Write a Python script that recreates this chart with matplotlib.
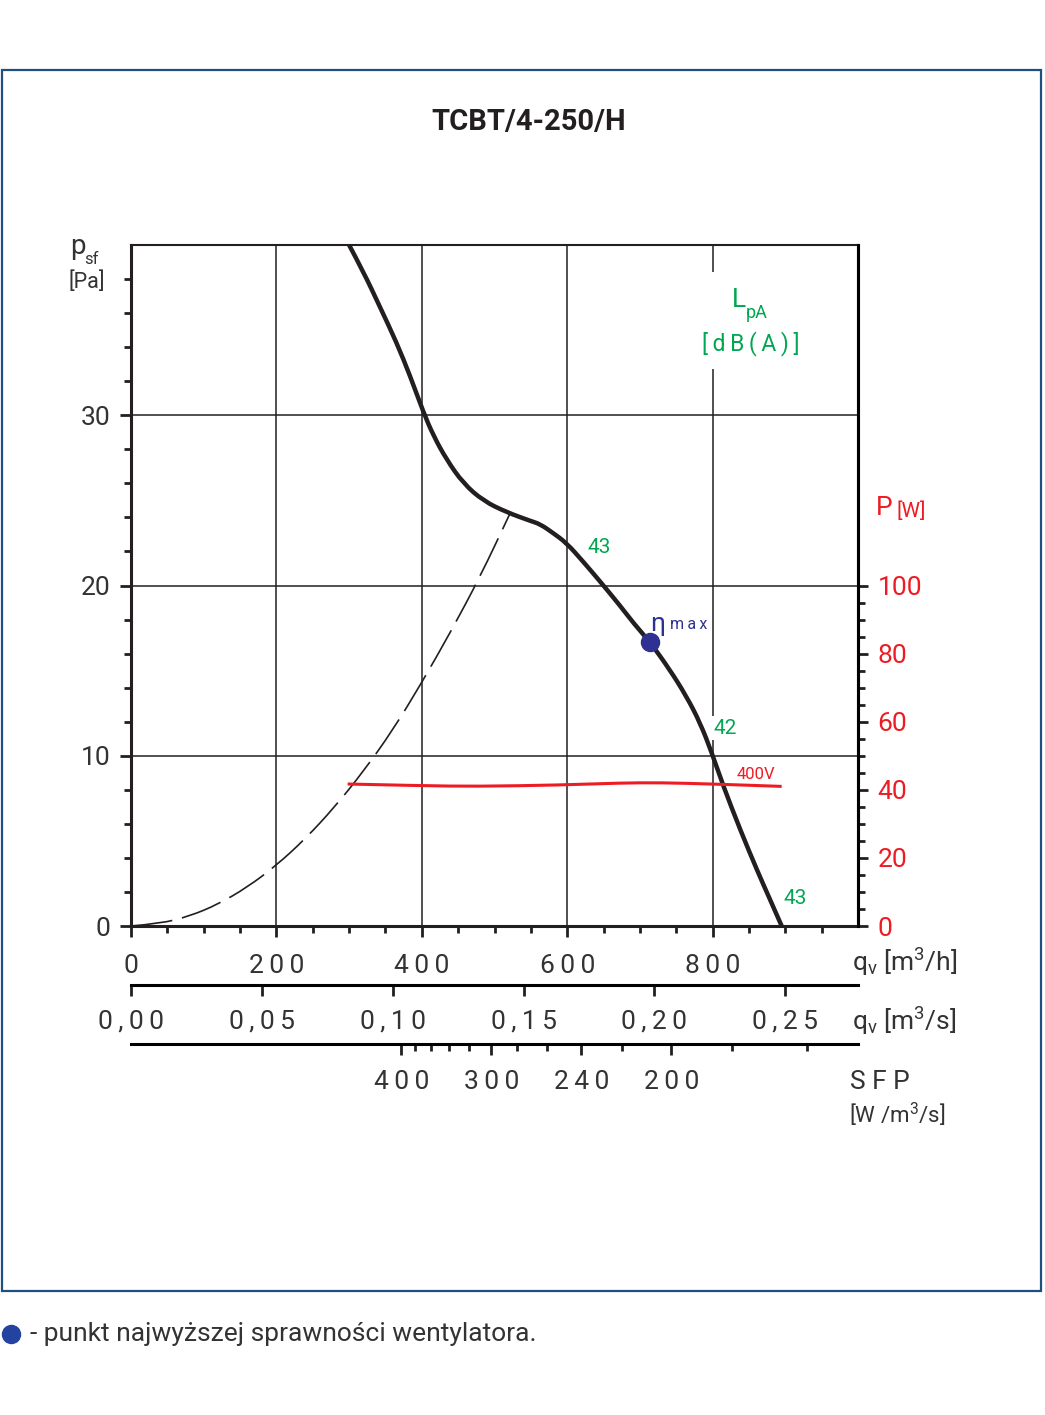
import numpy as np
import matplotlib
matplotlib.use('Agg')
from matplotlib import pyplot
from matplotlib.lines import Line2D
from matplotlib.patches import Rectangle, PathPatch
from matplotlib.path import Path
from matplotlib.ticker import FixedLocator

pyplot.rcParams['font.family'] = ['Roboto', 'DejaVu Sans']
pyplot.rcParams['mathtext.default'] = 'regular'

# fan curve (q [m3/h], p_sf [Pa])
q_fan = [300, 320, 342, 365, 384, 402, 416, 434, 457, 485, 517, 549, 563, 580, 599, 622,
         645, 673, 691, 714, 741, 764, 783, 799, 815, 838, 861, 878, 895]
p_fan = [40.0, 38.4, 36.4, 34.3, 32.3, 30.2, 28.8, 27.4, 26.0, 24.96, 24.3, 23.8, 23.6,
         23.1, 22.5, 21.4, 20.25, 18.8, 17.8, 16.67, 15.06, 13.49, 11.92, 10.16, 8.19,
         5.65, 3.29, 1.65, 0.0]

# system curve (dashed)
q_sys = [0, 40, 80, 120, 160, 200, 240, 280, 320, 360, 400, 440, 480, 521]
p_sys = [0.0, 0.14, 0.57, 1.28, 2.28, 3.56, 5.13, 6.98, 9.1, 11.5, 14.3, 17.3, 20.5, 24.2]

# power input 400V
q_pow = [298, 400, 476, 590, 673, 728, 800, 895]
P_pow = [41.7, 41.2, 41.0, 41.4, 42.0, 42.1, 41.7, 41.0]

# max efficiency point
q_eta, p_eta = 714, 16.67

# sound levels LpA along the curve
lpa_labels = ['43', '42', '43']

qh_ticks = [0, 200, 400, 600, 800]
qs_ticks = [0.0, 0.05, 0.10, 0.15, 0.20, 0.25]
qs_labels = ['0,00', '0,05', '0,10', '0,15', '0,20', '0,25']
sfp_major = [400, 300, 240, 200]
sfp_minor = [380, 360, 340, 320, 280, 260, 220, 180, 160]
P_sfp = 41.3  # W, power used for the SFP scale

W, H = 1045, 1415
black = '#231f20'
grey = '#333333'
green = '#00a651'
red = '#ed1c24'
navy = '#2e3192'


def fx(px):
    return px / W


def fy(py):
    return 1 - py / H


def spaced(s):
    return '\u2009'.join(s)


def smooth_path(x, y):
    # quadratic bezier through the midpoints, the read points act as controls
    verts = [(x[0], y[0])]
    codes = [Path.MOVETO]
    for i in range(1, len(x) - 1):
        verts += [(x[i], y[i]), ((x[i] + x[i + 1]) / 2, (y[i] + y[i + 1]) / 2)]
        codes += [Path.CURVE3, Path.CURVE3]
    verts.append((x[-1], y[-1]))
    codes.append(Path.LINETO)
    return Path(verts, codes)


fig = pyplot.figure(figsize=(W / 100, H / 100), dpi=100)
fig.add_artist(Rectangle((fx(2), fy(1291)), fx(1041) - fx(2), fy(70) - fy(1291),
                         transform=fig.transFigure, fill=False, ec='#1d4f80', lw=1.6))
fig.text(fx(529), fy(122), 'TCBT/4-250/H', ha='center', va='center', fontsize=21,
         fontweight='bold', color=black)

ax = fig.add_axes([fx(131), fy(926), fx(858) - fx(131), fy(245) - fy(926)])
ax.set_xlim(0, 1000)
ax.set_ylim(0, 40)
ax.xaxis.set_major_locator(FixedLocator(qh_ticks))
ax.set_xticklabels([spaced(str(v)) for v in qh_ticks])
ax.xaxis.set_minor_locator(FixedLocator(np.arange(50, 1000, 50)))
ax.yaxis.set_major_locator(FixedLocator([0, 10, 20, 30]))
ax.yaxis.set_minor_locator(FixedLocator(np.arange(2, 40, 2)))
ax.tick_params(which='major', direction='out', length=8, width=2, color=black,
               labelsize=19, labelcolor=grey)
ax.tick_params(which='minor', direction='out', length=5, width=2, color=black)
ax.tick_params(axis='x', pad=12)
ax.tick_params(axis='y', pad=7)
ax.grid(True, which='major', color=black, lw=1.1)
for side, lw in (('left', 2.2), ('bottom', 2.2), ('top', 1.5), ('right', 2.2)):
    ax.spines[side].set_linewidth(lw)
    ax.spines[side].set_color(black)

ax.add_patch(PathPatch(smooth_path(q_sys, p_sys), fill=False, ec=black, lw=1.2,
                       linestyle=(0, (25, 6)), zorder=4))
ax.add_patch(PathPatch(smooth_path(q_fan, p_fan), fill=False, ec=black, lw=3.2,
                       joinstyle='round', capstyle='butt', zorder=5))
ax.plot([q_eta], [p_eta], 'o', color=navy, ms=13, zorder=6)

# break in the 800 grid line behind the LpA caption
ax.add_patch(Rectangle((790, 32.7), 20, 5.7, fc='white', ec='none', zorder=3))

ax2 = ax.twinx()
ax2.set_ylim(0, 200)
ax2.yaxis.set_major_locator(FixedLocator(np.arange(0, 101, 20)))
ax2.yaxis.set_minor_locator(FixedLocator(np.arange(5, 100, 5)))
ax2.tick_params(which='major', direction='out', length=7, width=2, color=black,
                labelsize=19, labelcolor=red, pad=7)
ax2.tick_params(which='minor', direction='out', length=5, width=2, color=black)
for side in ('left', 'top', 'bottom'):
    ax2.spines[side].set_visible(False)
ax2.spines['right'].set_linewidth(2.2)
ax2.add_patch(PathPatch(smooth_path(q_pow, P_pow), fill=False, ec=red, lw=2.2, zorder=4))

# annotations inside the plot
fig.text(fx(588), fy(548), lpa_labels[0], color=green, fontsize=15, va='center', ha='left')
fig.text(fx(714), fy(728), lpa_labels[1], color=green, fontsize=15, va='center', ha='left',
         bbox=dict(fc='white', ec='none', pad=1.5), zorder=6)
fig.text(fx(784), fy(899), lpa_labels[2], color=green, fontsize=15, va='center', ha='left')
fig.text(fx(737), fy(774), '400V', color=red, fontsize=12, va='center', ha='left')
fig.text(fx(650), fy(624), 'η', color=navy, fontsize=19, va='center', ha='left')
fig.text(fx(670), fy(624), spaced('max'), color=navy, fontsize=11.5, va='center', ha='left')
fig.text(fx(732), fy(300), 'L', color=green, fontsize=19, va='center', ha='left')
fig.text(fx(746), fy(313), 'pA', color=green, fontsize=13, va='center', ha='left')
fig.text(fx(751), fy(344), spaced('[dB(A)]'), color=green, fontsize=16.5, va='center',
         ha='center')

# flow in m3/s
ax_s = fig.add_axes([fx(131), fy(985), fx(858) - fx(131), 0.0001])
ax_s.set_xlim(0, 1000 / 3600)
ax_s.set_xticks(qs_ticks)
ax_s.set_xticklabels([spaced(s) for s in qs_labels])
ax_s.set_yticks([])
ax_s.patch.set_visible(False)
for side in ('left', 'top', 'right'):
    ax_s.spines[side].set_visible(False)
ax_s.spines['bottom'].set_linewidth(2.2)
ax_s.tick_params(axis='x', direction='out', length=8, width=2, color=black,
                 labelsize=19, labelcolor=grey, pad=10)

# SFP scale
ax_f = fig.add_axes([fx(131), fy(1044), fx(858) - fx(131), 0.0001])
ax_f.set_xlim(0, 1000 / 3600)
ax_f.set_xticks([P_sfp / v for v in sfp_major])
ax_f.set_xticklabels([spaced(str(v)) for v in sfp_major])
ax_f.set_xticks([P_sfp / v for v in sfp_minor], minor=True)
ax_f.set_yticks([])
ax_f.patch.set_visible(False)
for side in ('left', 'top', 'right'):
    ax_f.spines[side].set_visible(False)
ax_f.spines['bottom'].set_linewidth(2.2)
ax_f.tick_params(axis='x', which='major', direction='out', length=8, width=2, color=black,
                 labelsize=19, labelcolor=grey, pad=11)
ax_f.tick_params(axis='x', which='minor', direction='out', length=5, width=2, color=black)

# axis captions
txt = dict(color=grey, va='center', ha='left')
fig.text(fx(70), fy(246), 'p', fontsize=20, **txt)
fig.text(fx(84), fy(259), 'sf', fontsize=12, **txt)
fig.text(fx(69), fy(282), '[Pa]', fontsize=15.5, **txt)
fig.text(fx(852), fy(962), r'q$_\mathregular{v}$ [m$^\mathregular{3}$/h]', fontsize=19, **txt)
fig.text(fx(852), fy(1021), r'q$_\mathregular{v}$ [m$^\mathregular{3}$/s]', fontsize=19, **txt)
fig.text(fx(850), fy(1082), 'S F P', fontsize=19, **txt)
fig.text(fx(849), fy(1115), r'[W /m$^\mathregular{3}$/s]', fontsize=16, **txt)
fig.text(fx(876), fy(508), 'P', fontsize=19, color=red, va='center', ha='left')
fig.text(fx(896), fy(511), '[W]', fontsize=15, color=red, va='center', ha='left')

# legend
fig.lines.append(Line2D([fx(11)], [fy(1334)], marker='o', ms=13, color='#2443a0',
                        transform=fig.transFigure))
fig.text(fx(30), fy(1334), '- punkt najwyższej sprawności wentylatora.', fontsize=19,
         color=grey, va='center', ha='left')

fig.savefig('out.png', dpi=100)
